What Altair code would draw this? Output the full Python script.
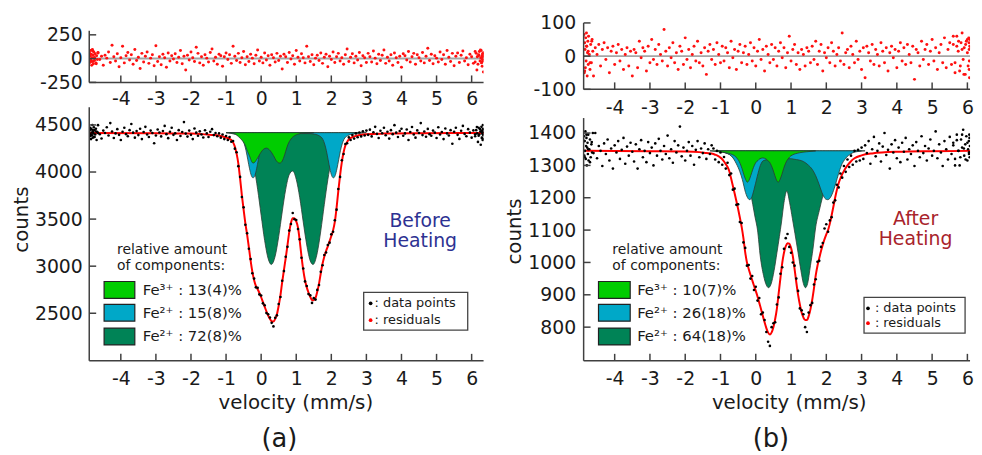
import altair as alt
import numpy as np
import pandas as pd

# ---------------- data ----------------
# velocity channels (mm/s), same grid for both spectra
VELOCITY = np.round(np.linspace(-4.9, 6.35, 226), 3)
# extra folded channels crowded at the ends of the velocity sweep
EDGE_V_A = [-4.89, -4.88, -4.87, -4.86, -4.85, -4.84, -4.83, -4.82, -4.81, -4.8,
            -4.79, -4.78, -4.77, -4.76, -4.75, -4.73, -4.71, -4.69, -4.67, -4.65,
            6.1, 6.13, 6.16, 6.18, 6.2, 6.22, 6.24, 6.26, 6.27, 6.28,
            6.29, 6.3, 6.31, 6.32, 6.33, 6.34, 6.335, 6.325, 6.315, 6.305]
EDGE_V_B = [-4.87, -4.86, -4.85, -4.84, -4.83, -4.82, -4.81, -4.8, -4.79, -4.78,
            -4.77, -4.76, -4.75, -4.74, -4.72, -4.7, -4.68, -4.66, -4.64, -4.62,
            5.6, 5.65, 5.7, 5.74, 5.78, 5.82, 5.85, 5.88, 5.91, 5.94,
            5.97, 6.0, 6.02, 6.04, 6.05, 6.06, 6.065, 6.07, 6.055, 6.045]

COUNTS_A = [
    4460, 4390, 4445, 4372, 4430, 4498, 4401, 4356, 4440, 4415,
    4475, 4388, 4520, 4430, 4362, 4410, 4455, 4395, 4340, 4428,
    4470, 4402, 4380, 4445, 4510, 4418, 4365, 4435, 4392, 4460,
    4350, 4425, 4480, 4398, 4372, 4440, 4415, 4305, 4388, 4452,
    4420, 4378, 4436, 4490, 4402, 4360, 4428, 4470, 4395, 4412,
    4340, 4445, 4382, 4425, 4530, 4408, 4376, 4440, 4395, 4350,
    4462, 4418, 4385, 4432, 4398, 4366, 4444, 4410, 4372, 4428,
    4455, 4392, 4414, 4380,
    4410, 4365, 4398, 4350, 4382, 4340, 4371, 4322, 4330, 4248,
    4210, 4062, 3948, 3735, 3625, 3440, 3350, 3185, 3075, 2925,
    2868, 2775, 2770, 2700, 2688, 2605, 2585, 2502, 2490, 2455,
    2398, 2360, 2452, 2478, 2598, 2672, 2845, 2948, 3100, 3205,
    3378, 3448, 3565, 3498, 3490, 3395, 3285, 3090, 2975, 2838,
    2790, 2705, 2690, 2610, 2660, 2645, 2748, 2800, 2940, 3010,
    3118, 3145, 3225, 3250, 3338, 3365, 3488, 3600, 3820, 3948,
    4125, 4192, 4298, 4305, 4368, 4340, 4392, 4355, 4410, 4370,
    4420, 4378, 4432, 4388, 4440,
    4395, 4450, 4378, 4422, 4480, 4405, 4362, 4438, 4412, 4470,
    4390, 4428, 4355, 4445, 4402, 4498, 4418, 4372, 4436, 4460,
    4385, 4410, 4452, 4340, 4425, 4478, 4398, 4365, 4442, 4415,
    4520, 4392, 4430, 4375, 4458, 4402, 4385, 4440, 4418, 4362,
    4475, 4398, 4425, 4350, 4462, 4410, 4388, 4445, 4300, 4428,
    4470, 4395, 4352, 4438, 4490, 4405, 4380, 4455, 4418, 4365,
    4442, 4400, 4478, 4385, 4430, 4360, 4452,
]
EDGE_COUNTS_A = [4440, 4380, 4470, 4400, 4350, 4455, 4420, 4390, 4500, 4365,
                 4430, 4410, 4475, 4372, 4445, 4398, 4460, 4340, 4425, 4415,
                 4380, 4445, 4410, 4320, 4470, 4398, 4455, 4290, 4430, 4480,
                 4365, 4440, 4405, 4500, 4350, 4425, 4390, 4460, 4340, 4418]

RESID_A = [
    45, -30, 80, 12, -55, 60, -10, 25, -70, 35,
    5, 70, -40, 140, 20, -25, 50, -85, 10, 130,
    -45, 30, 65, -15, 40, -60, 95, -20, 15, -105,
    55, -35, 25, 70, -50, 5, 40, -75, 135, -30,
    20, -65, 45, 10, -90, 60, -25, 30, -5, 50,
    -40, 15, 85, -55, 25, -120, 35, -15, 70, 10,
    -30, 120, 55, -45, 20, -70, 40, 5, -35, 65,
    100, -25, 15, -60, 45, 30, -80, 20, 60, -10,
    40, -50, 130, 25, -20, 55, -40, 10, 75, -65,
    20, -30, 45, 5, -55, 35, 90, -25, 15, -45,
    60, -15, 30, -70, 40, 10, -35, 55, -20, 25,
    -110, 45, 20, -40, 65, -5, 30, -60, 85, 15,
    -25, 50, 10, -45, 130, 20, -30, 40, -65, 5,
    35, -20, 60, -50, 15, 45, -85, 25, -10, 70,
    -40, 20, 55, -25, 10, -60, 40, 100, -30, 15,
    50, -45, 25, -15, 65, -75, 30, 10, -40, 55,
    20, -35, 80, 5, -55, 45, -20, 35, 90, -50,
    15, -25, 40, -70, 60, 10, -40, 25, -90, 50,
    30, -15, 75, -35, 20, 55, -60, 40, 10, -25,
    65, -45, 25, 110, -20, 45, -55, 30, 5, -35,
    70, -10, 40, -60, 85, 15, -30, 55, -75, 25,
    60, -40, 35, 80, -25, 10, -65, 45, 20, -50,
    75, -120, 30, 90, -35, 55,
]
EDGE_RESID_A = [60, -40, 25, 85, -15, 45, -70, 10, 95, -30,
                35, -55, 70, 5, -20, 50, -45, 30, -10, 65,
                -35, 55, 20, -60, 40, 75, -25, 10, 85, -45,
                30, -80, 50, 15, -20, 65, -140, 40, 25, -10]

COUNTS_B = [
    1380, 1325, 1395, 1350, 1310, 1372, 1338, 1400, 1322, 1360,
    1345, 1298, 1368, 1335, 1380, 1315, 1352, 1290, 1362, 1340,
    1375, 1320, 1348, 1385, 1305, 1358, 1330, 1370, 1342, 1312,
    1365, 1290, 1350, 1378, 1325, 1345, 1310, 1372, 1338, 1355,
    1300, 1368, 1330, 1382, 1345, 1318, 1360, 1335, 1392, 1322,
    1350, 1308, 1375, 1340, 1362, 1420, 1328, 1355, 1315, 1345,
    1372, 1330, 1360, 1302, 1348, 1375, 1325, 1352, 1338, 1368,
    1320, 1350, 1335, 1362,
    1352, 1318, 1345, 1310, 1340, 1302, 1326, 1290, 1308, 1270,
    1275, 1225, 1228, 1178, 1180, 1125, 1122, 1062, 1045, 990,
    992, 950, 958, 915, 925, 882, 890, 840, 845, 822,
    785, 755, 742, 800, 812, 815, 870, 892, 965, 985,
    1042, 1075, 1088, 1048, 1030, 1000, 990, 950, 912, 858,
    852, 840, 800, 785, 845, 868, 875, 932, 948, 1002,
    1005, 1048, 1060, 1105, 1118, 1095, 1130, 1140, 1185, 1192,
    1240, 1232, 1275, 1262, 1298, 1280, 1318, 1295, 1330, 1302,
    1345, 1312, 1348, 1315, 1355,
    1320, 1362, 1338, 1375, 1305, 1350, 1388, 1328, 1345, 1368,
    1312, 1358, 1400, 1332, 1348, 1290, 1365, 1340, 1378, 1322,
    1355, 1310, 1370, 1342, 1385, 1318, 1350, 1335, 1362, 1298,
    1372, 1345, 1325, 1390, 1338, 1360, 1315, 1352, 1380, 1330,
    1345, 1405, 1322, 1365, 1340, 1298, 1375, 1350, 1318, 1388,
    1335, 1362, 1300, 1378, 1345, 1325, 1395, 1352, 1318, 1370,
    1340, 1385, 1310, 1360, 1395, 1330, 1375,
]
EDGE_COUNTS_B = [1390, 1330, 1375, 1345, 1405, 1320, 1360, 1385, 1300, 1355,
                 1370, 1335, 1395, 1315, 1350, 1380, 1325, 1365, 1340, 1400,
                 1370, 1320, 1395, 1345, 1300, 1380, 1355, 1410, 1330, 1365,
                 1390, 1315, 1350, 1375, 1340, 1385, 1325, 1360, 1395, 1335]

RESID_B = [
    60, -45, 30, 15, -20, 45, -60, 25, 5, 35,
    -30, 20, 40, -10, 25, -50, 15, 30, -25, 10,
    35, -15, 20, -40, 5, 25, -30, 15, -60, 20,
    10, -35, 45, -5, 25, 15, -45, 30, -20, 50,
    -10, 20, -25, 35, 5, -15, 80, 15, -30, 25,
    -5, 40, -20, 10, -40, 30, 15, -25, 55, -10,
    20, -35, 5, 30, -15, 45, -20, 10, -30, 25,
    -55, 15, 35, -10, 20, -25, 40, 5, -20, 30,
    -15, 25, 10, -35, 45, -5, 20, -40, 15, 35,
    -20, 10, 30, -25, 5, 40, -15, 25, -30, 15,
    50, -10, 20, -45, 30, 5, -20, 35, -10, 25,
    -30, 15, 40, -5, 25, -35, 10, 60, -15, 20,
    35, -25, 10, -40, 20, 5, -30, 25, 15, -20,
    30, -10, 45, -25, 15, 35, -45, 10, -5, 25,
    -20, 40, 15, -30, 5, 25, -15, 70, -25, 10,
    20, -35, 30, 5, -20, 45, -10, 15, -40, 25,
    -65, 30, 10, -15, 35, -25, 20, 5, -30, 40,
    15, -20, 25, -45, 10, 30, -5, 20, -35, 15,
    40, -15, 25, -25, 35, 5, -20, 30, -70, 20,
    10, -30, 45, -10, 20, 35, -25, 15, 50, -15,
    25, -40, 10, 35, -20, 55, -35, 20, 40, -25,
    60, -50, 30, 45, -30, 20, -55, 35, 50, -40,
    25, -60, 45, 70, -35, 30,
]
EDGE_RESID_B = [65, -50, 40, 20, -35, 55, -15, 70, 30, -60,
                10, 45, -25, 60, 5, -40, 35, -20, 50, 15,
                35, -20, 60, 15, -45, 40, 70, -10, 25, -55,
                45, 10, -30, 55, 20, -65, 30, 50, -15, 40]

# fitted envelope (red line)
FIT_A_V = [-4.9, -3.0, -2.0, -1.6, -1.4,
           -1.2, -1.15, -1.1, -1.05, -1.0, -0.95, -0.9, -0.85, -0.8, -0.75,
           -0.7, -0.65, -0.6, -0.55, -0.5, -0.45, -0.4, -0.35, -0.3, -0.25,
           -0.2, -0.15, -0.1, -0.05, 0.0, 0.05, 0.1, 0.15, 0.2, 0.25,
           0.3, 0.35, 0.4, 0.45, 0.5, 0.55, 0.6, 0.65, 0.7, 0.75,
           0.8, 0.85, 0.9, 0.95, 1.0, 1.05, 1.1, 1.15, 1.2, 1.25,
           1.3, 1.35, 1.4, 1.45, 1.5, 1.55, 1.6, 1.65, 1.7, 1.75,
           1.8, 1.85, 1.9, 1.95, 2.0, 2.05, 2.1, 2.15, 2.2, 2.25,
           2.3, 2.35, 2.4, 2.45, 2.5, 2.55, 2.6,
           2.7, 2.8, 2.9, 3.0, 3.5, 4.5, 6.35]
FIT_A_C = [4415, 4413, 4408, 4400, 4394,
           4387, 4382, 4377, 4372, 4367, 4360, 4352, 4340, 4315, 4270,
           4195, 4090, 3930, 3755, 3600, 3455, 3335, 3200, 3060, 2940,
           2850, 2790, 2755, 2715, 2670, 2620, 2570, 2520, 2475, 2440,
           2415, 2412, 2440, 2490, 2580, 2690, 2830, 2960, 3085, 3220,
           3360, 3460, 3510, 3510, 3475, 3410, 3270, 3105, 2960, 2850,
           2775, 2720, 2675, 2640, 2638, 2662, 2730, 2815, 2925, 3026,
           3100, 3160, 3210, 3265, 3320, 3380, 3470, 3620, 3800, 3965,
           4105, 4210, 4280, 4320, 4345, 4360, 4370,
           4383, 4393, 4398, 4402, 4408, 4412, 4415]

FIT_B_V = [-4.9, -3.0, -2.0, -1.6, -1.4,
           -1.2, -1.15, -1.1, -1.05, -1.0, -0.95, -0.9, -0.85, -0.8, -0.75,
           -0.7, -0.65, -0.6, -0.55, -0.5, -0.45, -0.4, -0.35, -0.3, -0.25,
           -0.2, -0.15, -0.1, -0.05, 0.0, 0.05, 0.1, 0.15, 0.2, 0.25,
           0.3, 0.35, 0.4, 0.45, 0.5, 0.55, 0.6, 0.65, 0.7, 0.75,
           0.8, 0.85, 0.9, 0.95, 1.0, 1.05, 1.1, 1.15, 1.2, 1.25,
           1.3, 1.35, 1.4, 1.45, 1.5, 1.55, 1.6, 1.65, 1.7, 1.75,
           1.8, 1.85, 1.9, 1.95, 2.0, 2.05, 2.1, 2.15, 2.2, 2.25,
           2.3, 2.35, 2.4,
           2.5, 2.6, 2.7, 2.8, 3.0, 3.3, 4.0, 5.0, 6.35]
FIT_B_C = [1345, 1344, 1343, 1341, 1338,
           1335, 1333, 1331, 1328, 1324, 1319, 1312, 1304, 1295, 1282,
           1260, 1237, 1214, 1190, 1165, 1138, 1110, 1075, 1032, 1000,
           980, 962, 945, 928, 912, 895, 875, 855, 835, 815,
           797, 783, 777, 784, 800, 825, 858, 905, 952, 998,
           1030, 1050, 1059, 1058, 1045, 1020, 980, 938, 900, 870,
           845, 830, 822, 822, 834, 855, 884, 920, 960, 990,
           1013, 1035, 1055, 1072, 1087, 1100, 1120, 1145, 1172, 1200,
           1225, 1245, 1260,
           1283, 1300, 1313, 1322, 1331, 1337, 1342, 1344, 1345]

# sub-spectra (panel a)
FE3_A_V = [-0.9, -0.74, -0.65, -0.55, -0.46, -0.39, -0.32, -0.27, -0.23, -0.18,
           -0.1, -0.02, 0.06, 0.15, 0.25, 0.35, 0.44, 0.53, 0.58, 0.65,
           0.7, 0.76, 0.85, 0.95, 1.05, 1.23, 1.5]
FE3_A_C = [4418, 4405, 4377, 4340, 4289, 4220, 4160, 4110, 4095, 4105,
           4150, 4200, 4240, 4254, 4230, 4175, 4115, 4095, 4105, 4160,
           4220, 4289, 4350, 4385, 4402, 4415, 4418]
FE2S_A_V = [-1.0, -0.73, -0.63, -0.53, -0.48, -0.43, -0.38, -0.33, -0.28, -0.23,
            -0.18, -0.13, -0.08, -0.03, 0.02, 0.07, 0.17, 0.27, 0.5, 0.8,
            1.1, 1.36, 1.56, 1.66, 1.76, 1.81, 1.86, 1.91, 1.96, 2.01,
            2.06, 2.11, 2.16, 2.21, 2.26, 2.31, 2.36, 2.46, 2.56, 2.8, 3.0]
FE2S_A_C = [4418, 4399, 4384, 4346, 4298, 4226, 4130, 4034, 3962, 3938,
            3962, 4034, 4130, 4226, 4298, 4346, 4384, 4399, 4411, 4408,
            4408, 4408, 4399, 4384, 4346, 4298, 4226, 4130, 4034, 3962,
            3938, 3962, 4034, 4130, 4226, 4298, 4346, 4384, 4399, 4412, 4418]
FE2M_A_V = [-1.0, -0.7, -0.6, -0.5, -0.4, -0.3, -0.2, -0.1, 0.0, 0.1,
            0.2, 0.29, 0.4, 0.5, 0.6, 0.7, 0.8, 0.9, 1.0, 1.1,
            1.2, 1.3, 1.4, 1.48, 1.6, 1.7, 1.8, 1.9, 2.0, 2.1,
            2.2, 2.3, 2.4, 2.5, 2.8]
FE2M_A_C = [4418, 4412, 4401, 4375, 4319, 4216, 4049, 3817, 3541, 3272,
            3080, 3018, 3107, 3314, 3576, 3816, 3972, 4011, 3923, 3728,
            3470, 3225, 3056, 3018, 3143, 3375, 3654, 3917, 4124, 4264,
            4345, 4388, 4407, 4414, 4418]

# sub-spectra (panel b)
FE3_B_V = [-1.3, -1.04, -0.84, -0.59, -0.54, -0.49, -0.44, -0.39, -0.34, -0.29,
           -0.24, -0.19, -0.14, -0.09, -0.04, 0.01, 0.06, 0.11, 0.2, 0.29,
           0.34, 0.39, 0.44, 0.49, 0.54, 0.59, 0.64, 0.69, 0.74, 0.79,
           0.84, 0.89, 0.94, 0.99, 1.24, 1.44, 1.7]
FE3_B_C = [1345, 1342, 1339, 1329, 1323, 1316, 1305, 1290, 1272, 1257,
           1248, 1254, 1269, 1286, 1300, 1310, 1315, 1320, 1323, 1320,
           1315, 1310, 1300, 1286, 1269, 1254, 1248, 1257, 1272, 1290,
           1305, 1316, 1323, 1329, 1339, 1342, 1345]
FE2S_B_V = [-1.1, -0.9, -0.7, -0.55, -0.45, -0.38, -0.29, -0.22, -0.17, -0.12,
            -0.05, 0.04, 0.13, 0.22, 0.35, 0.6, 0.9, 1.15, 1.35, 1.5,
            1.6, 1.7, 1.8, 1.9, 1.98, 2.04, 2.1, 2.18, 2.27, 2.35,
            2.42, 2.55, 2.7, 2.9, 3.1]
FE2S_B_C = [1345, 1340, 1330, 1305, 1280, 1256, 1216, 1198, 1194, 1200,
            1225, 1265, 1300, 1315, 1318, 1320, 1321, 1318, 1312, 1300,
            1288, 1268, 1240, 1210, 1196, 1194, 1198, 1215, 1245, 1275,
            1298, 1322, 1336, 1343, 1345]
FE2M_B_V = [-1.1, -0.9, -0.7, -0.5, -0.3, -0.15, -0.02, 0.05, 0.13, 0.22,
            0.3, 0.36, 0.43, 0.52, 0.6, 0.67, 0.73, 0.8, 0.88, 0.96,
            1.04, 1.11, 1.2, 1.28, 1.35, 1.41, 1.47, 1.55, 1.62, 1.7,
            1.8, 1.9, 2.0, 2.1, 2.25, 2.45, 2.7, 3.0]
FE2M_B_C = [1345, 1340, 1330, 1305, 1265, 1215, 1140, 1100, 1017, 960,
            930, 922, 932, 975, 1030, 1080, 1125, 1185, 1221, 1185,
            1135, 1090, 1030, 975, 935, 922, 935, 990, 1040, 1110,
            1160, 1205, 1245, 1275, 1305, 1328, 1340, 1345]

BASE_A = 4418
BASE_B = 1345

X_TICKS = [-4, -3, -2, -1, 0, 1, 2, 3, 4, 5, 6]
RES_TICKS_A = [-250, 0, 250]
RES_TICKS_B = [-100, 0, 100]
Y_TICKS_A = [2500, 3000, 3500, 4000, 4500]
Y_TICKS_B = [800, 900, 1000, 1100, 1200, 1300, 1400]

LEGEND_HEAD = ["relative amount", "of components:"]
LEGEND_A = ["Fe³⁺ : 13(4)%", "Fe²⁺ : 15(8)%", "Fe²⁺ : 72(8)%"]
LEGEND_B = ["Fe³⁺ : 10(7)%", "Fe²⁺ : 26(18)%", "Fe²⁺ : 64(18)%"]
LEGEND_POINTS = [": data points", ": residuals"]
HEAT_A = ["Before", "Heating"]
HEAT_B = ["After", "Heating"]
PANEL_TAGS = ["(a)", "(b)"]
X_TITLE = "velocity (mm/s)"
Y_TITLE = "counts"

# ---------------- styling ----------------
FONT = "DejaVu Sans"
INK = "#1a1a1a"
AX = "#404040"
C_FE3 = "#00cc00"
C_FE2S = "#00a8c8"
C_FE2M = "#008356"
C_OUT = "#2a3a33"
COMP_COLORS = [C_FE3, C_FE2S, C_FE2M]
ONE = pd.DataFrame({"k": [0]})


def x_axis(pad, title=None, title_x=0):
    kw = dict(values=X_TICKS, labelExpr="'' + datum.value", domain=False, ticks=False,
              tickSize=0, grid=False, labelFontSize=19, labelPadding=pad,
              labelColor=INK, labelFont=FONT)
    if title:
        kw.update(title=title, titleFontSize=20, titleFontWeight="normal", titlePadding=4,
                  titleX=title_x, titleColor=INK, titleFont=FONT)
    else:
        kw.update(title=None)
    return alt.Axis(**kw)


def y_axis(values, pad, title=None, title_y=0):
    kw = dict(values=values, labelExpr="'' + datum.value", domain=False, ticks=False,
              tickSize=0, grid=False, labelFontSize=19, labelPadding=pad,
              labelColor=INK, labelFont=FONT)
    if title:
        kw.update(title=title, titleFontSize=20, titleFontWeight="normal", titlePadding=3,
                  titleY=title_y, titleColor=INK, titleFont=FONT)
    else:
        kw.update(title=None)
    return alt.Axis(**kw)


def frame(W, H, xs, ys, xax, yax, yticks, ytop):
    yline = alt.Chart(ONE).mark_rule(color=AX, strokeWidth=1.5).encode(
        x=alt.value(0), y=alt.value(ytop), y2=alt.value(H))
    xline = alt.Chart(ONE).mark_rule(color=AX, strokeWidth=1.5).encode(
        x=alt.value(0), x2=alt.value(W), y=alt.value(H))
    xt = alt.Chart(pd.DataFrame({"t": X_TICKS})).mark_rule(color=AX, strokeWidth=1.5).encode(
        x=alt.X("t:Q", scale=xs, axis=xax), y=alt.value(H), y2=alt.value(H - 7))
    yt = alt.Chart(pd.DataFrame({"t": yticks})).mark_rule(color=AX, strokeWidth=1.5).encode(
        y=alt.Y("t:Q", scale=ys, axis=yax), x=alt.value(0), x2=alt.value(7))
    return [yline, xline, xt, yt]


def text(t, x, y, size, color=INK, align="left"):
    return alt.Chart(pd.DataFrame({"t": [t]})).mark_text(
        align=align, baseline="middle", fontSize=size, color=color, font=FONT).encode(
        text="t:N", x=alt.value(x), y=alt.value(y))


def rect(x, x2, y, y2, fill, stroke, sw):
    return alt.Chart(ONE).mark_rect(fill=fill, stroke=stroke, strokeWidth=sw).encode(
        x=alt.value(x), x2=alt.value(x2), y=alt.value(y), y2=alt.value(y2))


def dot(x, y, color):
    return alt.Chart(ONE).mark_circle(size=14, color=color, opacity=1).encode(
        x=alt.value(x), y=alt.value(y))


def residual_panel(res, edge_v, edge_r, xdom, ydom, yticks, W, H, ytop, xpad, ypad):
    xs = alt.Scale(domain=xdom, nice=False, zero=False)
    ys = alt.Scale(domain=ydom, nice=False, zero=False)
    xax = x_axis(xpad)
    yax = y_axis(yticks, ypad)
    zero = alt.Chart(pd.DataFrame({"r": [0]})).mark_rule(color="#a6a6a6", strokeWidth=2).encode(
        y=alt.Y("r:Q", scale=ys, axis=yax))
    df = pd.DataFrame({"v": list(VELOCITY) + list(edge_v), "r": list(res) + list(edge_r)})
    pts = alt.Chart(df).mark_circle(size=9, color="#ff1010", opacity=1, clip=True).encode(
        x=alt.X("v:Q", scale=xs, axis=xax),
        y=alt.Y("r:Q", scale=ys, axis=yax))
    return alt.layer(zero, pts, *frame(W, H, xs, ys, xax, yax, yticks, ytop)).properties(
        width=W, height=H)


def main_panel(counts, edge_v, edge_c, fit_v, fit_c, comps, base, xdom, ydom, yticks, W, H,
               ytop, xpad, ypad, title_x, title_y, labels, lg, heat, heat_color, tag):
    xs = alt.Scale(domain=xdom, nice=False, zero=False)
    ys = alt.Scale(domain=ydom, nice=False, zero=False)
    xax = x_axis(xpad, X_TITLE, title_x)
    yax = y_axis(yticks, ypad, Y_TITLE, title_y)
    layers = []
    # components: dark green at back, then light blue, then green
    for (v, c), col in zip(comps, [C_FE2M, C_FE2S, C_FE3]):
        df = pd.DataFrame({"v": v, "c": c, "b": base})
        layers.append(alt.Chart(df).mark_area(
            fill=col, stroke=C_OUT, strokeWidth=0.8, interpolate="monotone", opacity=1).encode(
            x=alt.X("v:Q", scale=xs, axis=xax), y=alt.Y("c:Q", scale=ys, axis=yax), y2="b:Q"))
    layers.append(alt.Chart(pd.DataFrame({"v": fit_v, "c": fit_c})).mark_line(
        color="#ff0000", strokeWidth=2, interpolate="monotone", clip=True).encode(
        x=alt.X("v:Q", scale=xs, axis=xax), y=alt.Y("c:Q", scale=ys, axis=yax)))
    dfp = pd.DataFrame({"v": list(VELOCITY) + list(edge_v), "c": list(counts) + list(edge_c)})
    layers.append(alt.Chart(dfp).mark_circle(
        size=7, color="#000000", opacity=1, clip=True).encode(
        x=alt.X("v:Q", scale=xs, axis=xax),
        y=alt.Y("c:Q", scale=ys, axis=yax)))
    layers += frame(W, H, xs, ys, xax, yax, yticks, ytop)
    # component legend
    layers.append(text(LEGEND_HEAD[0], lg["hx"], 144, 14))
    layers.append(text(LEGEND_HEAD[1], lg["hx"], 160, 14))
    for i, (lab, col) in enumerate(zip(labels, COMP_COLORS)):
        top = lg["box_top"][i]
        layers.append(rect(15, lg["bx2"], top, top + 17, col, "#222222", 1.2))
        layers.append(text(lab, 54, top + 8.5, 15))
    # points legend
    layers.append(rect(lg["px"], lg["px2"], lg["py"], lg["py2"], "#ffffff", "#444444", 1.3))
    for j, col in enumerate(["#000000", "#ff0000"]):
        layers.append(dot(lg["dx"], lg["dy"][j], col))
        layers.append(text(LEGEND_POINTS[j], lg["tx"], lg["dy"][j], 13))
    # heating label and panel tag
    layers.append(text(heat[0], lg["heat_x"], lg["heat_y"], 19, heat_color, "center"))
    layers.append(text(heat[1], lg["heat_x"], lg["heat_y"] + 20, 19, heat_color, "center"))
    layers.append(text(tag, lg["tag_x"], 335, 26, INK, "center"))
    return alt.layer(*layers).properties(width=W, height=H)


XDOM_A = [-4.9, 6.34]
XDOM_B = [-4.88, 6.075]
WA, WB = 398, 390

resA = residual_panel(RESID_A, EDGE_V_A, EDGE_RESID_A, XDOM_A, [-250, 375], RES_TICKS_A,
                      WA, 60, 8, 7, 7)
resB = residual_panel(RESID_B, EDGE_V_B, EDGE_RESID_B, XDOM_B, [-100, 100], RES_TICKS_B,
                      WB, 67, 0, 9, 8)

lgA = dict(hx=28, box_top=[176, 199, 223], bx2=46, px=277, px2=382, py=187, py2=225,
           dx=284, dy=[198, 215], tx=288, heat_x=334, heat_y=115, tag_x=192)
lgB = dict(hx=29, box_top=[176, 199, 223], bx2=47, px=283, px2=385, py=192, py2=228,
           dx=287, dy=[203, 218], tx=294, heat_x=335, heat_y=113, tag_x=189)

mainA = main_panel(COUNTS_A, EDGE_V_A, EDGE_COUNTS_A, FIT_A_V, FIT_A_C,
                   [(FE2M_A_V, FE2M_A_C), (FE2S_A_V, FE2S_A_C), (FE3_A_V, FE3_A_C)],
                   BASE_A, XDOM_A, [1995, 4689], Y_TICKS_A, WA, 256, 0, 9, 7, 208, 113,
                   LEGEND_A, lgA, HEAT_A, "#2d3192", PANEL_TAGS[0])
mainB = main_panel(COUNTS_B, EDGE_V_B, EDGE_COUNTS_B, FIT_B_V, FIT_B_C,
                   [(FE2M_B_V, FE2M_B_C), (FE2S_B_V, FE2S_B_C), (FE3_B_V, FE3_B_C)],
                   BASE_B, XDOM_B, [696, 1480], Y_TICKS_B, WB, 256, 11, 9, 8, 207, 125,
                   LEGEND_B, lgB, HEAT_B, "#a8232b", PANEL_TAGS[1])

chart = alt.concat(resA, resB, mainA, mainB, columns=2,
                   spacing={"row": 18, "column": 101}, bounds="flush").properties(
    padding={"left": 3, "top": 4, "right": 0, "bottom": 0},
    background="white",
).configure_view(strokeWidth=0).configure_text(font=FONT)

chart.save("out.html", embed_options={"renderer": "svg", "actions": False})
